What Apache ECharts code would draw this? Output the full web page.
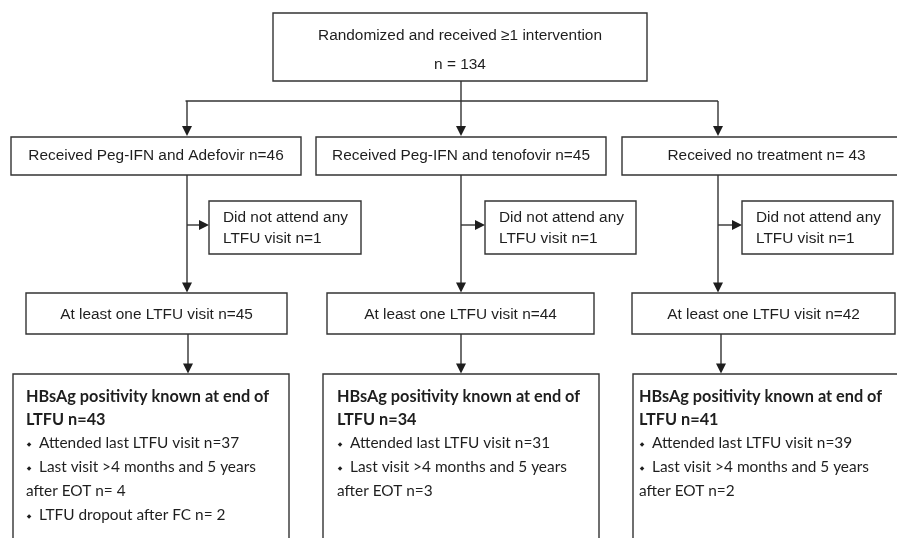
<!DOCTYPE html>
<html><head><meta charset="utf-8">
<script src="https://cdn.jsdelivr.net/npm/echarts@6/dist/echarts.min.js"></script>
<style>html,body{margin:0;padding:0;background:#fff}#c{width:897px;height:538px}</style>
</head><body><div id="c"></div>
<script>
// ---- data ----
const topLabel = 'Randomized and received \u22651 intervention';
const topN = 134;
const armNames = ['Received Peg-IFN and Adefovir', 'Received Peg-IFN and tenofovir', 'Received no treatment'];
const armN = [46, 45, 43];
const noVisitN = [1, 1, 1];
const visitN = [45, 44, 42];
const hbsagN = [43, 34, 41];
const attendedN = [37, 31, 39];
const lastVisitN = [4, 3, 2];
const dropoutN = [2, null, null];
const nSep = [['', '', ' '], ['', '', ''], [' ', '', ''], [' ', '', '']]; // spacing quirks of the source labels

// ---- layout (pixel space of the hidden axes) ----
const L = {
  top: {x0: 273, x1: 647, y0: 13, y1: 81},
  busY: 101,
  armY: [137, 175],
  armX: [[11, 301], [316, 606], [622, 911]],
  colX: [187, 461, 718],
  noY: [201, 254],
  noX: [[209, 361], [485, 636], [742, 893]],
  branchY: 225,
  visY: [293, 334],
  visX: [[26, 287], [327, 594], [632, 895]],
  colX2: [188, 461, 721],
  bigY: [374, 600],
  bigX: [[13, 289], [323, 599], [633, 912]],
  bigTextX: [26, 337, 639]
};
const STROKE = '#333', TXT = '#1e1e1e';
const F1 = {fontFamily: 'Liberation Sans', fontSize: 15.4, fontWeight: 'normal'};
const FB = {fontFamily: 'Lato', fontSize: 16.3, fontWeight: 'bold'};
const FN = {fontFamily: 'Lato', fontSize: 15.4, fontWeight: 'normal'};
const FD = {fontFamily: 'DejaVu Sans', fontSize: 6, fontWeight: 'normal'};

function renderItem(params, api) {
  if (params.dataIndex !== 0) return null;
  const P = (x, y) => api.coord([x, y]);
  const ch = [];
  const rect = (x0, y0, x1, y1) => {
    const a = P(x0, y0), b = P(x1, y1);
    ch.push({type: 'rect', shape: {x: a[0], y: a[1], width: b[0] - a[0], height: b[1] - a[1]},
      style: {fill: '#fff', stroke: STROKE, lineWidth: 1.4}});
  };
  const line = (pts) => {
    ch.push({type: 'polyline', shape: {points: pts.map(p => P(p[0], p[1]))},
      style: {stroke: STROKE, lineWidth: 1.4, fill: null}});
  };
  const arrowDown = (x, y) => {
    ch.push({type: 'polygon', shape: {points: [P(x - 5, y - 10), P(x + 5, y - 10), P(x, y)]}, style: {fill: '#1e1e1e'}});
  };
  const arrowRight = (x, y) => {
    ch.push({type: 'polygon', shape: {points: [P(x - 10, y - 5), P(x - 10, y + 5), P(x, y)]}, style: {fill: '#1e1e1e'}});
  };
  const text = (s, x, y, f, align) => {
    const p = P(x, y);
    ch.push({type: 'text', x: p[0], y: p[1], style: Object.assign({text: s, fill: TXT, align: align || 'left', verticalAlign: 'middle'}, f)});
  };

  rect(L.top.x0, L.top.y0, L.top.x1, L.top.y1);
  const tc = (L.top.x0 + L.top.x1) / 2;
  text(topLabel, tc, 35.5, F1, 'center');
  text('n = ' + topN, tc, 64.5, F1, 'center');
  line([[L.colX[1], L.top.y1], [L.colX[1], L.busY]]);
  line([[L.colX[0] - 1.5, L.busY], [L.colX[2], L.busY]]);

  for (let i = 0; i < 3; i++) {
    const cx = L.colX[i];
    line([[cx, L.busY], [cx, L.armY[0] - 4]]);
    arrowDown(cx, L.armY[0] - 1);
    rect(L.armX[i][0], L.armY[0], L.armX[i][1], L.armY[1]);
    text(armNames[i] + ' n=' + nSep[0][i] + armN[i], (L.armX[i][0] + L.armX[i][1]) / 2, 155.5, F1, 'center');
    line([[cx, L.armY[1]], [cx, L.visY[0] - 4]]);
    arrowDown(cx, L.visY[0] - 0.5);
    line([[cx, L.branchY], [L.noX[i][0] - 4, L.branchY]]);
    arrowRight(L.noX[i][0], L.branchY);
    rect(L.noX[i][0], L.noY[0], L.noX[i][1], L.noY[1]);
    text('Did not attend any', L.noX[i][0] + 14, 217.5, F1, 'left');
    text('LTFU visit n=' + noVisitN[i], L.noX[i][0] + 14, 238.5, F1, 'left');
    rect(L.visX[i][0], L.visY[0], L.visX[i][1], L.visY[1]);
    text('At least one LTFU visit n=' + visitN[i], (L.visX[i][0] + L.visX[i][1]) / 2, 315, F1, 'center');
    const cx2 = L.colX2[i];
    line([[cx2, L.visY[1]], [cx2, L.bigY[0] - 4]]);
    arrowDown(cx2, L.bigY[0] - 0.5);
    rect(L.bigX[i][0], L.bigY[0], L.bigX[i][1], L.bigY[1]);
    const tx = L.bigTextX[i];
    text('HBsAg positivity known at end of', tx, 397, FB);
    text('LTFU n=' + hbsagN[i], tx, 420, FB);
    const bullets = [['Attended last LTFU visit n=' + attendedN[i], 443],
                     ['Last visit >4 months and 5 years', 467]];
    bullets.forEach(b => {
      text('\u25C6', tx + 3, b[1] + 1, FD, 'center');
      text(b[0], tx + 13, b[1], FN);
    });
    text('after EOT n=' + nSep[2][i] + lastVisitN[i], tx, 491, FN);
    if (dropoutN[i] != null) {
      text('\u25C6', tx + 3, 516, FD, 'center');
      text('LTFU dropout after FC n=' + nSep[3][i] + dropoutN[i], tx + 13, 515, FN);
    }
  }
  return {type: 'group', children: ch};
}

const chart = echarts.init(document.getElementById('c'), null, {renderer: 'canvas'});
chart.setOption({
  animation: false,
  backgroundColor: '#fff',
  grid: {left: 0, right: 0, top: 0, bottom: 0},
  xAxis: {type: 'value', min: 0, max: 897, show: false},
  yAxis: {type: 'value', min: 0, max: 538, inverse: true, show: false},
  series: [{type: 'custom', renderItem: renderItem, clip: false, data: [[0, 0]], silent: true}]
});
</script></body></html>
